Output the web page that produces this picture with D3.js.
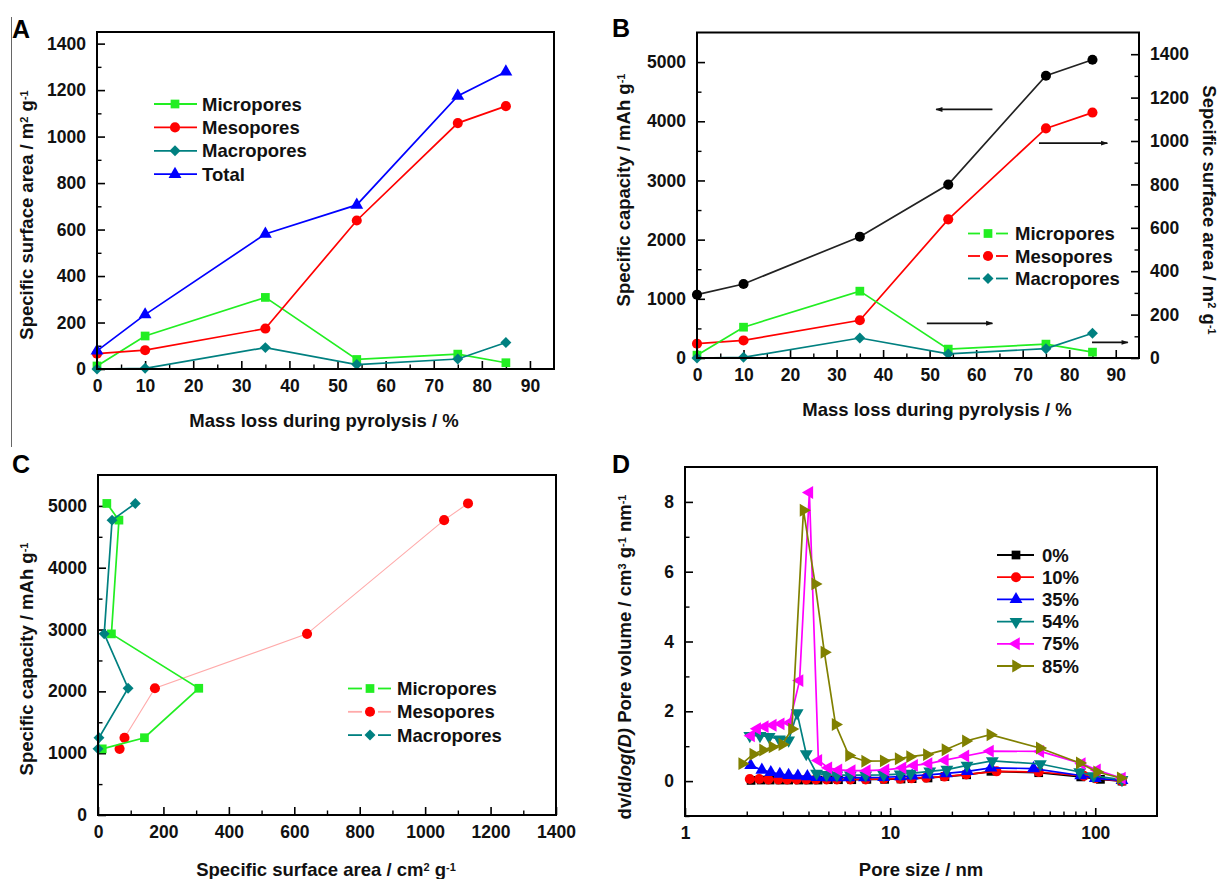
<!DOCTYPE html>
<html>
<head>
<meta charset="utf-8">
<title>Pyrolysis pore analysis</title>
<script src="https://d3js.org/d3.v7.min.js"></script>
<style>
  body { margin: 0; background: #fff; }
  svg { display: block; font-family: "Liberation Sans", Arial, sans-serif; font-weight: bold; }
</style>
</head>
<body>
<svg id="fig" width="1220" height="879"></svg>
<script>
// ---- data ----
var massLoss = [0, 10, 35, 54, 75, 85];
var micro = [13, 142, 308, 41, 64, 27];
var meso = [66, 81, 174, 639, 1058, 1131];
var macro = [0, 3, 92, 19, 43, 114];
var total = [78, 234, 581, 706, 1175, 1279];
var capacity = [1070, 1250, 2050, 2930, 4770, 5040];

// BJH distributions (pore size nm, dv/dlogD)
var psd0x = [2.1, 2.35, 2.6, 2.9, 3.2, 3.6, 4.0, 4.45, 5.0, 5.6, 6.5, 7.7, 9.4, 11.3, 12.8, 15.3, 18.5, 23.6, 31, 53, 85, 106, 135];
var psd0y = [0.02, 0.03, 0.03, 0.03, 0.03, 0.03, 0.03, 0.03, 0.04, 0.04, 0.04, 0.05, 0.05, 0.06, 0.07, 0.09, 0.13, 0.18, 0.28, 0.24, 0.12, 0.05, 0.0];
var psd10x = [2.07, 2.3, 2.55, 2.85, 3.15, 3.5, 3.9, 4.35, 4.9, 5.5, 6.4, 7.6, 9.3, 11.2, 12.7, 15.0, 18.4, 23.5, 33, 53, 88, 100, 135];
var psd10y = [0.06, 0.06, 0.05, 0.05, 0.05, 0.05, 0.05, 0.05, 0.05, 0.05, 0.05, 0.05, 0.06, 0.07, 0.08, 0.1, 0.13, 0.19, 0.28, 0.26, 0.15, 0.08, 0.0];
var psd35x = [2.09, 2.37, 2.62, 2.9, 3.2, 3.55, 3.95, 4.4, 4.9, 5.5, 6.3, 7.5, 9.3, 11.2, 12.8, 15.3, 18.8, 23.8, 31, 50, 85, 100, 135];
var psd35y = [0.45, 0.32, 0.25, 0.2, 0.17, 0.15, 0.13, 0.11, 0.1, 0.1, 0.1, 0.1, 0.11, 0.13, 0.15, 0.18, 0.22, 0.28, 0.38, 0.36, 0.16, 0.08, 0.02];
var psd54x = [2.07, 2.32, 2.57, 2.88, 3.2, 3.52, 3.9, 4.38, 4.9, 5.5, 6.4, 7.6, 9.3, 11.2, 12.6, 15.6, 18.9, 23.7, 31.5, 54, 84, 98, 135];
var psd54y = [1.3, 1.3, 1.27, 1.2, 1.17, 1.95, 0.78, 0.22, 0.18, 0.17, 0.17, 0.17, 0.18, 0.2, 0.22, 0.28, 0.33, 0.45, 0.58, 0.49, 0.26, 0.15, 0.04];
var psd75x = [2.1, 2.25, 2.45, 2.68, 2.93, 3.23, 3.62, 4.04, 4.47, 5.0, 5.6, 6.5, 7.7, 9.5, 11.5, 13.1, 15.4, 18.5, 23.3, 30.7, 54, 86, 102, 135];
var psd75y = [1.3, 1.5, 1.56, 1.6, 1.64, 1.67, 2.88, 8.27, 0.59, 0.38, 0.32, 0.3, 0.3, 0.32, 0.38, 0.45, 0.5, 0.6, 0.72, 0.86, 0.85, 0.5, 0.32, 0.08];
var psd85x = [1.9, 2.15, 2.4, 2.67, 2.98, 3.32, 3.78, 4.31, 4.78, 5.42, 6.3, 7.55, 9.3, 11.0, 12.5, 15.1, 18.6, 23.4, 30.8, 53.6, 84, 102, 133];
var psd85y = [0.5, 0.77, 0.89, 0.98, 1.05, 1.49, 7.76, 5.65, 3.69, 1.62, 0.73, 0.57, 0.58, 0.64, 0.7, 0.76, 0.9, 1.15, 1.33, 0.95, 0.52, 0.26, 0.09];
var psdLabels = ['0%', '10%', '35%', '54%', '75%', '85%'];

var svg = d3.select('#fig');
var GREEN = '#22ee22', RED = '#ff0000', TEAL = '#008080', BLUE = '#0000ff', MAG = '#ff00ff', OLIVE = '#808000';

function zip(xs, ys) { return xs.map(function (x, i) { return [x, ys[i]]; }); }

function symbolPath(kind) {
    var s = {
        square: [d3.symbolSquare, 76, 0], circle: [d3.symbolCircle, 80, 0],
        diamond: [d3.symbolSquare, 60, 45], up: [d3.symbolTriangle, 72, 0],
        down: [d3.symbolTriangle, 72, 180], left: [d3.symbolTriangle, 72, -90],
        right: [d3.symbolTriangle, 72, 90]
    }[kind];
    return { d: d3.symbol().type(s[0]).size(s[1])(), rot: s[2] };
}

function drawMarkers(g, pts, kind, color) {
    var sp = symbolPath(kind);
    g.selectAll(null).data(pts).enter().append('path')
        .attr('d', sp.d).attr('fill', color)
        .attr('transform', function (p) { return 'translate(' + p[0] + ',' + p[1] + ') rotate(' + sp.rot + ')'; });
}

function drawSeries(g, xs, ys, sx, sy, color, kind, lineColor, lw) {
    var pts = zip(xs, ys).map(function (d) { return [sx(d[0]), sy(d[1])]; });
    g.append('path').attr('d', d3.line()(pts)).attr('fill', 'none')
        .attr('stroke', lineColor || color).attr('stroke-width', lw || 1.7);
    drawMarkers(g, pts, kind, color);
}

// axis with inward ticks
function axis(g, gen, scale, major, minor, fmt, tr) {
    var a = g.append('g').attr('transform', tr || null)
        .call(gen(scale).tickValues(major).tickSize(-8).tickSizeOuter(0).tickPadding(11).tickFormat(fmt || d3.format('d')));
    a.select('.domain').remove();
    a.selectAll('line').attr('stroke', '#000').attr('stroke-width', 1.6);
    a.selectAll('text').attr('font-size', 17.5).attr('font-family', '"Liberation Sans", Arial, sans-serif')
        .attr('font-weight', 'bold').attr('fill', '#111');
    if (minor) {
        var m = g.append('g').attr('transform', tr || null)
            .call(gen(scale).tickValues(minor).tickSize(-4.5).tickSizeOuter(0).tickFormat(''));
        m.select('.domain').remove();
        m.selectAll('line').attr('stroke', '#000').attr('stroke-width', 1.4);
    }
    return a;
}

function frame(g, x0, x1, y0, y1) {
    g.append('rect').attr('x', x0).attr('y', y0).attr('width', x1 - x0).attr('height', y1 - y0)
        .attr('fill', 'none').attr('stroke', '#000').attr('stroke-width', 2);
}

// text with superscripts: parts = [[text, sup?, italic?], ...]
function richText(g, x, y, parts, rot) {
    var t = g.append('text').attr('text-anchor', 'middle').attr('font-size', 18.5).attr('fill', '#111')
        .attr('transform', 'translate(' + x + ',' + y + ') rotate(' + (rot || 0) + ')');
    parts.forEach(function (p) {
        var s = t.append('tspan').text(p[0]);
        if (p[1]) s.attr('font-size', 11).attr('baseline-shift', '45%');
        if (p[2]) s.attr('font-style', 'italic');
    });
    return t;
}

function legend(g, y, dy, items, l0, l1, mx, tx, gap) {
    items.forEach(function (it, i) {
        var yy = y + i * dy;
        var segs = gap ? [[l0, mx - gap], [mx + gap, l1]] : [[l0, l1]];
        segs.forEach(function (sg) {
            g.append('line').attr('x1', sg[0]).attr('x2', sg[1]).attr('y1', yy).attr('y2', yy)
                .attr('stroke', it.line || it.color).attr('stroke-width', 1.8);
        });
        drawMarkers(g, [[mx, yy]], it.kind, it.color);
        g.append('text').attr('x', tx).attr('y', yy + 6.5).attr('font-size', 18.5).attr('fill', '#111').text(it.name);
    });
}

function letter(t, x, y) {
    svg.append('text').attr('x', x).attr('y', y).attr('font-size', 25).attr('fill', '#000').text(t);
}

// thin divider line at left
svg.append('line').attr('x1', 11.5).attr('x2', 11.5).attr('y1', 17).attr('y2', 447).attr('stroke', '#666').attr('stroke-width', 1);

// ================= Panel A =================
(function () {
    var g = svg.append('g');
    var x = d3.scaleLinear().domain([0, 95]).range([97, 554]);
    var y = d3.scaleLinear().domain([0, 1450]).range([369, 32]);
    axis(g, d3.axisBottom, x, d3.range(0, 91, 10), d3.range(5, 95, 10), null, 'translate(0,369)');
    axis(g, d3.axisLeft, y, d3.range(0, 1401, 200), d3.range(100, 1450, 200), null, 'translate(97,0)');
    drawSeries(g, massLoss, micro, x, y, GREEN, 'square');
    drawSeries(g, massLoss, meso, x, y, RED, 'circle');
    drawSeries(g, massLoss, macro, x, y, TEAL, 'diamond');
    drawSeries(g, massLoss, total, x, y, BLUE, 'up');
    frame(g, 97, 554, 32, 369);
    legend(g, 104, 23.4, [
        { name: 'Micropores', color: GREEN, kind: 'square' },
        { name: 'Mesopores', color: RED, kind: 'circle' },
        { name: 'Macropores', color: TEAL, kind: 'diamond' },
        { name: 'Total', color: BLUE, kind: 'up' }
    ], 154, 197, 175, 202, 0);
    richText(g, 324, 427, [['Mass loss during pyrolysis / %']]);
    richText(g, 33, 215, [['Specific surface area / m'], ['2', 1], [' g'], ['-1', 1]], -90);
    letter('A', 12, 38);
})();

// ================= Panel B =================
(function () {
    var g = svg.append('g');
    var x = d3.scaleLinear().domain([0, 95]).range([697, 1139]);
    var yl = d3.scaleLinear().domain([0, 5500]).range([358, 32.5]);
    var yr = d3.scaleLinear().domain([0, 1500]).range([358, 32.5]);
    axis(g, d3.axisBottom, x, d3.range(0, 91, 10), d3.range(5, 95, 10), null, 'translate(0,358)');
    axis(g, d3.axisLeft, yl, d3.range(0, 5001, 1000), d3.range(500, 5500, 1000), null, 'translate(697,0)');
    axis(g, d3.axisRight, yr, d3.range(0, 1401, 200), d3.range(100, 1500, 200), null, 'translate(1139,0)');
    drawSeries(g, massLoss, capacity, x, yl, '#000', 'circle', '#222');
    drawSeries(g, massLoss, meso, x, yr, RED, 'circle');
    drawSeries(g, massLoss, micro, x, yr, GREEN, 'square');
    drawSeries(g, massLoss, macro, x, yr, TEAL, 'diamond');
    frame(g, 697, 1139, 32.5, 358);
    // annotation arrows, positioned in data units
    var arrows = [
        { x0: 63.5, x1: 51.4, v: 4200, s: yl },
        { x0: 73.5, x1: 88.2, v: 990, s: yr },
        { x0: 49.4, x1: 63.5, v: 160, s: yr },
        { x0: 84.9, x1: 92.6, v: 72, s: yr }
    ];
    svg.append('defs').append('marker').attr('id', 'ah').attr('viewBox', '0 0 10 10')
        .attr('refX', 9).attr('refY', 5).attr('markerWidth', 10).attr('markerHeight', 7).attr('orient', 'auto')
        .attr('markerUnits', 'userSpaceOnUse')
        .append('path').attr('d', 'M0,1.5 L10,5 L0,8.5 Z').attr('fill', '#111');
    arrows.forEach(function (a) {
        g.append('line').attr('x1', x(a.x0)).attr('x2', x(a.x1)).attr('y1', a.s(a.v)).attr('y2', a.s(a.v))
            .attr('stroke', '#111').attr('stroke-width', 1.7).attr('marker-end', 'url(#ah)');
    });
    legend(g, 233.5, 22.5, [
        { name: 'Micropores', color: GREEN, kind: 'square' },
        { name: 'Mesopores', color: RED, kind: 'circle' },
        { name: 'Macropores', color: TEAL, kind: 'diamond' }
    ], 968, 1008, 988, 1015, 8);
    richText(g, 937, 416, [['Mass loss during pyrolysis / %']]);
    richText(g, 630, 190, [['Specific capacity / mAh g'], ['-1', 1]], -90);
    richText(g, 1203, 210, [['Sepcific surface area / m'], ['2', 1], [' g'], ['-1', 1]], 90);
    letter('B', 612, 37);
})();

// ================= Panel C =================
(function () {
    var g = svg.append('g');
    var x = d3.scaleLinear().domain([0, 1400]).range([98, 556]);
    var y = d3.scaleLinear().domain([0, 5500]).range([815, 475]);
    axis(g, d3.axisBottom, x, d3.range(0, 1401, 200), d3.range(100, 1400, 200), null, 'translate(0,815)');
    axis(g, d3.axisLeft, y, d3.range(0, 5001, 1000), d3.range(500, 5500, 1000), null, 'translate(98,0)');
    drawSeries(g, meso, capacity, x, y, RED, 'circle', '#ffaaaa', 1.1);
    drawSeries(g, micro, capacity, x, y, GREEN, 'square');
    drawSeries(g, macro, capacity, x, y, TEAL, 'diamond');
    frame(g, 98, 556, 475, 815);
    legend(g, 688.5, 23.3, [
        { name: 'Micropores', color: GREEN, kind: 'square' },
        { name: 'Mesopores', color: RED, kind: 'circle', line: '#ffaaaa' },
        { name: 'Macropores', color: TEAL, kind: 'diamond' }
    ], 348, 391, 370, 397, 8);
    richText(g, 326, 876, [['Specific surface area / cm'], ['2', 1], [' g'], ['-1', 1]]);
    richText(g, 33, 659, [['Specific capacity / mAh g'], ['-1', 1]], -90);
    letter('C', 12, 473);
})();

// ================= Panel D =================
(function () {
    var g = svg.append('g');
    var x = d3.scaleLog().domain([1, 200]).range([685, 1157]);
    var y = d3.scaleLinear().domain([-1, 9]).range([816, 467]);
    var minorX = [2, 3, 4, 5, 6, 7, 8, 9, 20, 30, 40, 50, 60, 70, 80, 90];
    axis(g, d3.axisBottom, x, [1, 10, 100], minorX, d3.format('d'), 'translate(0,816)');
    axis(g, d3.axisLeft, y, [0, 2, 4, 6, 8], [-1, 1, 3, 5, 7], d3.format('d'), 'translate(685,0)');
    var series = [
        [psd0x, psd0y, '#000', 'square'],
        [psd10x, psd10y, RED, 'circle'],
        [psd35x, psd35y, BLUE, 'up'],
        [psd54x, psd54y, TEAL, 'down'],
        [psd75x, psd75y, MAG, 'left'],
        [psd85x, psd85y, OLIVE, 'right']
    ];
    series.forEach(function (s) { drawSeries(g, s[0], s[1], x, y, s[2], s[3]); });
    frame(g, 685, 1157, 467, 816);
    legend(g, 555, 22.2, series.map(function (s, i) {
        return { name: psdLabels[i], color: s[2], kind: s[3] };
    }), 997, 1034, 1016, 1042, 0);
    richText(g, 921, 876, [['Pore size / nm']]);
    richText(g, 631, 657, [['dv/d'], ['log(D)', 0, 1], [' Pore volume / cm'], ['3', 1], [' g'], ['-1', 1], [' nm'], ['-1', 1]], -90);
    letter('D', 612, 473);
})();
</script>
</body>
</html>
